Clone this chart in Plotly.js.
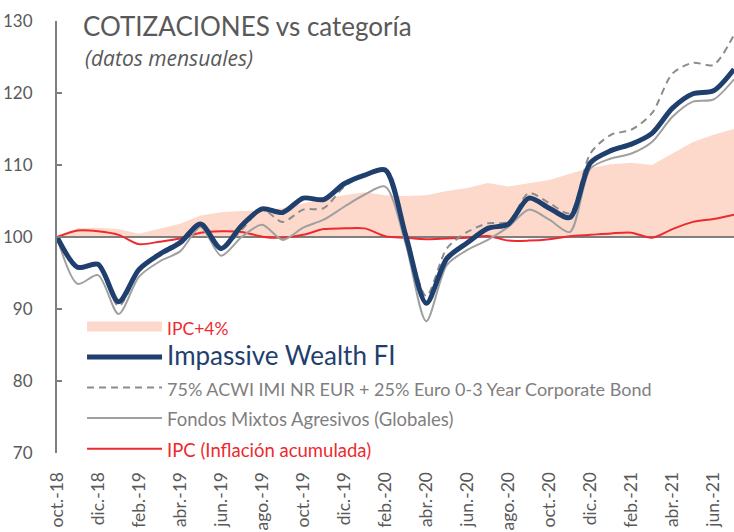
<!DOCTYPE html>
<html>
<head>
<meta charset="utf-8">
<script src="https://cdn.plot.ly/plotly-3.0.1.min.js"></script>
<style>html,body{margin:0;padding:0;background:#fff;}#chart{width:734px;height:532px;}</style>
</head>
<body>
<div id="chart"></div>
<script>
const months = ['oct.-18','nov.-18','dic.-18','ene.-19','feb.-19','mar.-19','abr.-19','may.-19','jun.-19','jul.-19','ago.-19','sep.-19','oct.-19','nov.-19','dic.-19','ene.-20','feb.-20','mar.-20','abr.-20','may.-20','jun.-20','jul.-20','ago.-20','sep.-20','oct.-20','nov.-20','dic.-20','ene.-21','feb.-21','mar.-21','abr.-21','may.-21','jun.-21','jul.-21'];

const impassive = [100,95.8,96.2,91.0,95.5,97.6,99.2,101.8,98.4,101.6,103.9,103.4,105.4,105.2,107.4,108.6,109.3,100.2,90.8,97.0,99.2,101.2,101.8,105.4,104.0,102.7,110.3,112.0,112.9,114.4,117.9,119.9,120.3,123.3];
const acwi = [100,95.6,96.0,90.4,95.2,97.8,99.5,102.0,98.3,101.0,103.8,102.1,103.8,104.0,107.0,108.5,109.4,100.3,91.8,98.4,100.7,101.9,102.1,106.1,104.7,103.3,111.6,114.2,114.9,117.2,122.7,124.2,123.9,128.1];
const fondos = [100,93.5,94.7,89.3,94.5,96.6,98.0,101.4,97.4,100.0,101.7,99.6,101.3,102.4,104.2,105.9,107.0,99.0,88.3,96.1,98.2,99.6,101.4,103.8,102.4,100.7,109.5,110.9,111.6,113.2,116.7,118.8,119.1,121.9];
const ipc = [100,100.9,100.8,100.3,99.0,99.35,99.8,100.6,100.8,100.7,100.05,99.9,100.3,101.1,101.2,101.2,100.1,99.9,99.7,99.8,99.9,100.15,99.5,99.5,99.7,100.1,100.3,100.5,100.6,99.9,101.1,102.1,102.5,103.1];
const ipc4 = [100.2,101.2,101.3,101.1,100.45,101.2,101.85,103.0,103.45,103.6,103.7,104.0,104.7,105.3,105.8,106.2,105.8,105.7,105.8,106.4,106.8,107.5,107.0,107.4,107.9,108.8,109.6,110.1,110.3,110.0,111.6,113.2,114.2,115.0];

const BASE = 100;
const baseLine = months.map(() => BASE);
const tickMonths = months.filter((m, i) => i % 2 === 0);
const yTicks = [70, 80, 90, 100, 110, 120, 130];

const FONT = 'Lato, Carlito, "Open Sans", sans-serif';
const SM = 0.8;

const traces = [
  {x: months, y: baseLine, mode: 'lines', line: {width: 0, color: 'rgba(0,0,0,0)'}, showlegend: false, hoverinfo: 'skip'},
  {x: months, y: ipc4, mode: 'lines', fill: 'tonexty', fillcolor: '#fcd9cb', line: {width: 0, color: '#fcd9cb'}, showlegend: false},
  {x: [null], y: [null], mode: 'lines', line: {width: 15, color: '#fcd9cb'}, name: '<span style="font-size:17.5px;color:#ee2a2f">IPC+4%</span>', legendrank: 1},
  {x: months, y: baseLine, mode: 'lines', line: {width: 2, color: '#7f7f7f'}, showlegend: false, hoverinfo: 'skip'},
  {x: months, y: ipc, mode: 'lines', line: {width: 2, color: '#ee2a2f', shape: 'spline', smoothing: SM}, name: '<span style="font-size:18.5px;color:#ee2a2f">IPC (Inflación acumulada)</span>', legendrank: 5},
  {x: months, y: fondos, mode: 'lines', line: {width: 2, color: '#a0a0a0', shape: 'spline', smoothing: SM}, name: '<span style="font-size:18.5px;color:#7f7f7f">Fondos Mixtos Agresivos (Globales)</span>', legendrank: 4},
  {x: months, y: acwi, mode: 'lines', line: {width: 2, color: '#8c8c8c', dash: '7px,5px', shape: 'spline', smoothing: SM}, name: '<span style="font-size:18px;color:#7f7f7f">75% ACWI IMI NR EUR + 25% Euro 0-3 Year Corporate Bond</span>', legendrank: 3},
  {x: months, y: impassive, mode: 'lines', line: {width: 5, color: '#1f3f6e', shape: 'spline', smoothing: SM}, name: '<span style="font-size:26px;color:#1f3f6e">Impassive Wealth FI</span>', legendrank: 2}
];

const layout = {
  width: 734, height: 532,
  margin: {l: 57, r: 0, t: 21, b: 79},
  paper_bgcolor: '#ffffff', plot_bgcolor: '#ffffff',
  font: {family: FONT, color: '#595959'},
  title: {text: 'COTIZACIONES vs categoría', font: {family: FONT, size: 26, color: '#595959'}, xref: 'paper', x: 0.0384, xanchor: 'left', yref: 'container', y: 1 - 27/532, yanchor: 'middle'},
  annotations: [{text: '<i>(datos mensuales)</i>', xref: 'paper', yref: 'paper', x: 0.0384, xanchor: 'left', y: 0.915, yanchor: 'middle', showarrow: false, font: {family: '"Open Sans", sans-serif', size: 21, color: '#595959'}}],
  showlegend: true,
  legend: {x: 0.037, xanchor: 'left', y: 0.34, yanchor: 'top', bgcolor: 'rgba(0,0,0,0)', font: {family: FONT, size: 21.2, color: '#7f7f7f'}, itemwidth: 75, traceorder: 'normal'},
  xaxis: {type: 'category', range: [0, months.length - 1], tickmode: 'array', tickvals: tickMonths, ticktext: tickMonths, tickangle: -90, ticks: 'outside', ticklen: 11, tickcolor: 'rgba(0,0,0,0)', showgrid: false, zeroline: false, showline: false, tickfont: {family: FONT, size: 17.5, color: '#595959'}},
  yaxis: {range: [70, 130], tickmode: 'array', tickvals: yTicks, ticks: 'inside', ticklen: 5, tickwidth: 2, tickcolor: '#7f7f7f', showline: true, linecolor: '#7f7f7f', linewidth: 2, showgrid: false, zeroline: false, ticklabelstandoff: 19, tickfont: {family: FONT, size: 17, color: '#595959'}}
};

Plotly.newPlot('chart', traces, layout, {displayModeBar: false, staticPlot: true});
</script>
</body>
</html>
